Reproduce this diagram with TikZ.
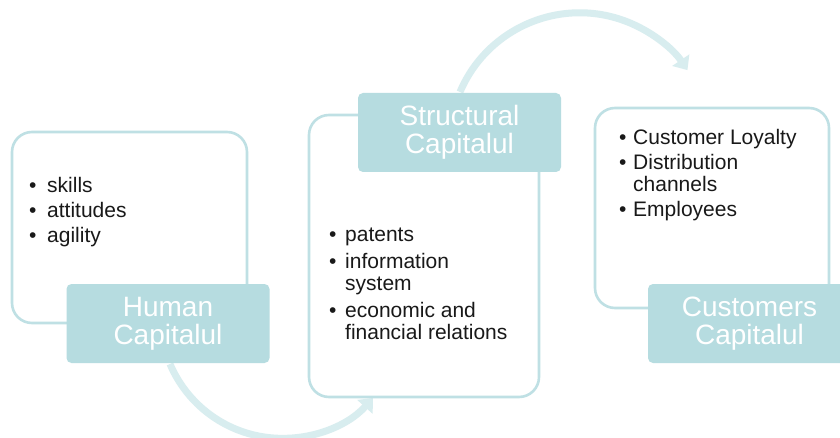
\documentclass[tikz,border=0pt]{standalone}
\usepackage{fontspec}
\setmainfont{Liberation Sans}
\usetikzlibrary{arrows.meta}
\definecolor{labelfill}{HTML}{B6DCE0}
\definecolor{frameline}{HTML}{BFE0E4}
\definecolor{flowline}{HTML}{D8EDEF}
\newcommand{\bitem}[1]{\textbullet & #1}
\begin{document}
\begin{tikzpicture}[x=1pt,y=-1pt,
  frame/.style={draw=frameline,line width=2.6pt,rounded corners=20pt,fill=white,
    minimum width=#1,inner sep=0pt},
  tag/.style={fill=labelfill,rounded corners=5pt,minimum width=203pt,minimum height=79pt,
    inner sep=0pt,align=center,text=white,font=\fontsize{28}{28}\selectfont},
  list/.style={anchor=base west,inner sep=0pt,text=black!90,font=\fontsize{21}{22}\selectfont},
  flow/.style={draw=flowline,line width=7pt,-{Triangle[length=12pt,width=20pt]}}]
\clip (0,0) rectangle (840,438);
\fill[white] (0,0) rectangle (840,438);

% curved connectors, drawn first so the boxes sit on top
\coordinate (hout) at (170,364);
\coordinate (sout) at (460,92);
\draw[flow] (hout) arc[start angle=157, end angle=42, radius=122];
\draw[flow] (sout) arc[start angle=203, end angle=326, radius=130];

% outline boxes
\node[frame=235pt,minimum height=191pt] (hframe) at (129.5,227.5) {};
\node[frame=230pt,minimum height=282pt] (sframe) at (424,256) {};
\node[frame=234pt,minimum height=200pt] (cframe) at (712,208) {};

% title boxes
\node[tag] (human) at (168,323.5) {Human\\Capitalul};
\node[tag] (struct) at (459.5,132.5) {Structural\\Capitalul};
\node[tag] (cust) at (749.5,323.5) {Customers\\Capitalul};

% bullet lists
\node[list] (hlist) at (29,193) {%
  \begin{tabular}[t]{@{}p{18pt}@{}l@{}}
  \bitem{skills}\\[3pt]
  \bitem{attitudes}\\[3pt]
  \bitem{agility}
  \end{tabular}};
\node[list] (slist) at (329,242) {%
  \begin{tabular}[t]{@{}p{16pt}@{}l@{}}
  \bitem{patents}\\[5pt]
  \bitem{information}\\
  & system\\[5pt]
  \bitem{economic and}\\
  & financial relations
  \end{tabular}};
\node[list] (clist) at (619,145) {%
  \begin{tabular}[t]{@{}p{14pt}@{}l@{}}
  \bitem{Customer Loyalty}\\[3pt]
  \bitem{Distribution}\\
  & channels\\[3pt]
  \bitem{Employees}
  \end{tabular}};
\end{tikzpicture}
\end{document}
